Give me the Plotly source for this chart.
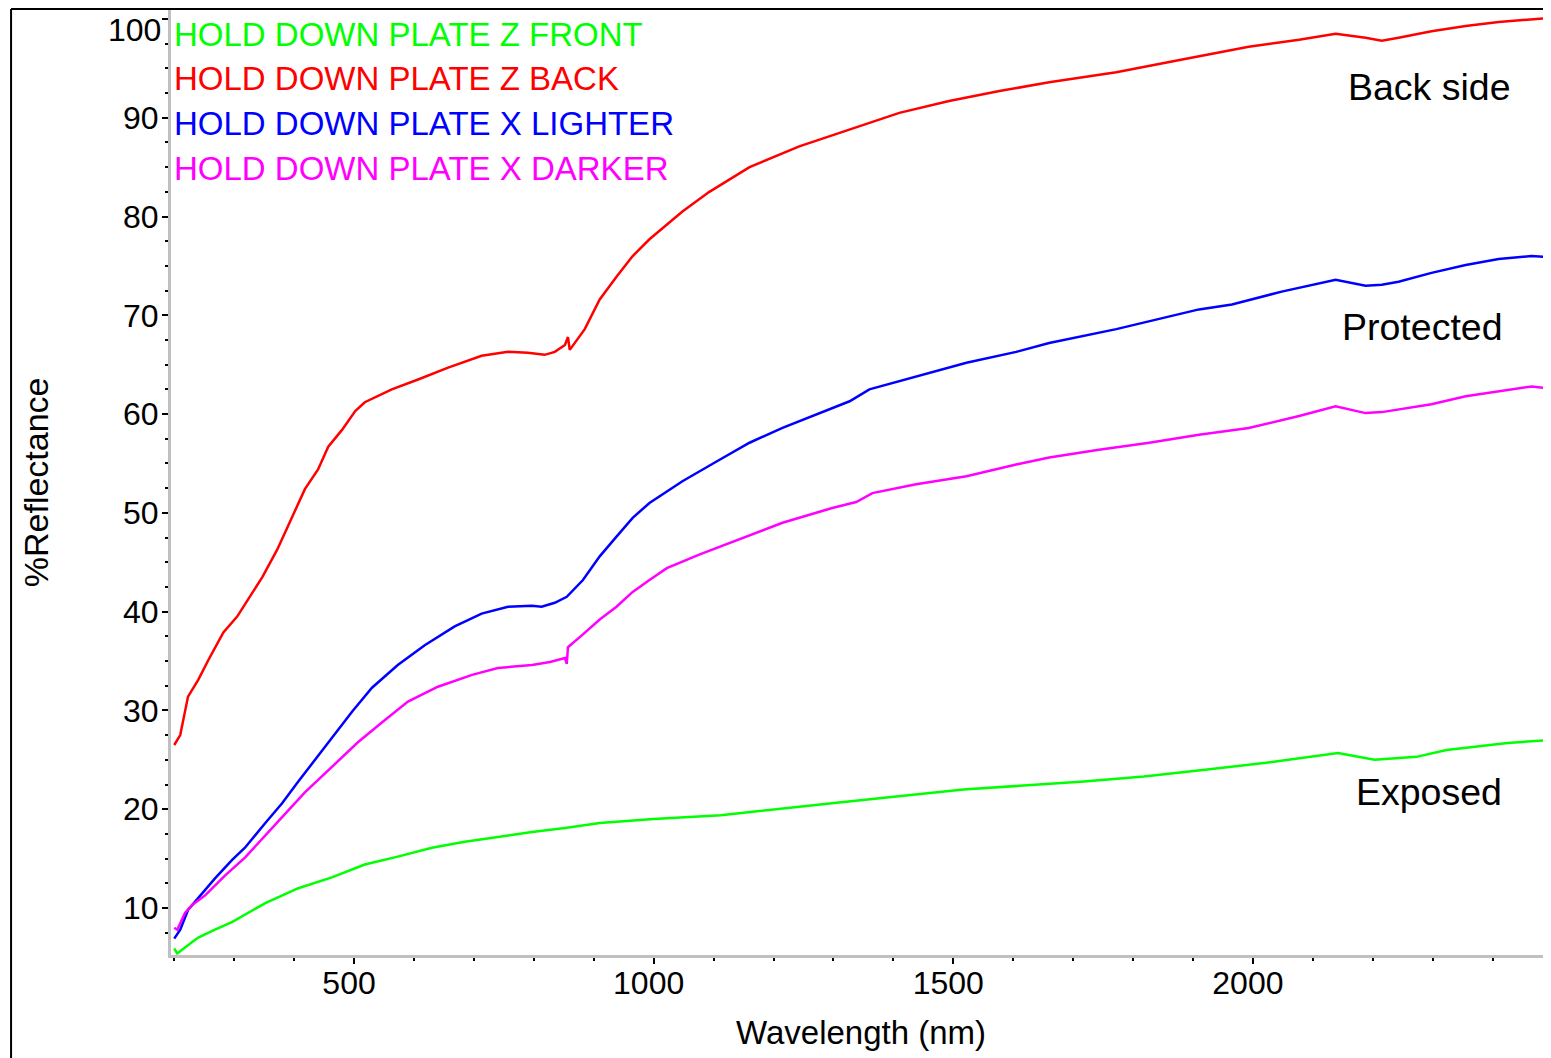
import plotly.graph_objects as go

# wavelength (nm) / %reflectance
wl_front = [200, 205, 218, 240, 268, 297, 352, 407, 463, 518, 573, 630, 685, 740, 797, 852,
            910, 1000, 1112, 1313, 1517, 1718, 1818, 1920, 2022, 2142, 2203, 2273, 2323, 2425, 2495]
r_front = [5.9, 5.4, 6.0, 7.0, 7.8, 8.6, 10.5, 12.0, 13.1, 14.4, 15.2, 16.1, 16.7, 17.2, 17.7, 18.1,
           18.6, 19.0, 19.4, 20.7, 22.0, 22.8, 23.3, 24.0, 24.7, 25.7, 25.0, 25.3, 26.0, 26.7, 27.0]

wl_back = [200, 210, 223, 240, 257, 282, 305, 323, 347, 372, 397, 418, 440, 457, 480, 502, 518,
           563, 607, 657, 713, 757, 790, 818, 835, 852, 857, 860, 885, 910, 938, 965, 993, 1022,
           1048, 1093, 1160, 1243, 1327, 1410, 1493, 1577, 1660, 1772, 1882, 1993, 2077, 2138,
           2188, 2215, 2243, 2298, 2355, 2410, 2495]
r_back = [26.5, 27.5, 31.4, 33.1, 35.1, 37.9, 39.5, 41.2, 43.5, 46.3, 49.6, 52.4, 54.4, 56.7, 58.4,
          60.3, 61.2, 62.5, 63.5, 64.7, 65.9, 66.3, 66.2, 66.0, 66.3, 67.0, 67.8, 66.5, 68.6, 71.6,
          73.9, 76.0, 77.7, 79.2, 80.5, 82.5, 85.0, 87.1, 88.8, 90.5, 91.7, 92.7, 93.6, 94.6, 95.9,
          97.2, 97.9, 98.5, 98.1, 97.8, 98.1, 98.75, 99.3, 99.7, 100.1]

wl_lighter = [200, 210, 223, 240, 268, 297, 318, 352, 380, 407, 435, 463, 497, 530, 573, 618, 668,
              713, 757, 797, 813, 835, 855, 882, 910, 938, 965, 993, 1048, 1105, 1160, 1215, 1272,
              1327, 1360, 1438, 1522, 1605, 1660, 1772, 1855, 1910, 1965, 2048, 2138, 2188, 2215,
              2243, 2298, 2355, 2410, 2465, 2495]
r_lighter = [6.9, 7.8, 9.8, 11.0, 13.0, 14.9, 16.1, 18.6, 20.6, 22.8, 25.0, 27.3, 29.9, 32.3, 34.6,
             36.6, 38.5, 39.8, 40.5, 40.6, 40.5, 40.9, 41.5, 43.2, 45.6, 47.6, 49.5, 51.0, 53.2, 55.2,
             57.1, 58.6, 60.0, 61.3, 62.5, 63.8, 65.2, 66.3, 67.2, 68.6, 69.8, 70.6, 71.1, 72.4, 73.6,
             73.0, 73.1, 73.4, 74.3, 75.1, 75.7, 76.0, 75.9]

wl_darker = [200, 205, 218, 230, 252, 285, 318, 352, 380, 418, 463, 507, 547, 590, 640, 697, 740,
             797, 827, 852, 855, 857, 882, 910, 938, 965, 993, 1022, 1077, 1132, 1215, 1298, 1338,
             1365, 1438, 1522, 1605, 1660, 1743, 1827, 1910, 1993, 2077, 2138, 2188, 2215, 2298,
             2355, 2410, 2465, 2495]
r_darker = [8.0, 7.8, 9.5, 10.3, 11.3, 13.3, 15.1, 17.4, 19.2, 21.7, 24.3, 26.8, 28.8, 30.9, 32.4,
            33.6, 34.3, 34.6, 34.9, 35.3, 34.7, 36.4, 37.7, 39.2, 40.5, 42.0, 43.2, 44.4, 45.8, 47.1,
            49.0, 50.5, 51.1, 52.0, 52.9, 53.7, 54.9, 55.6, 56.4, 57.1, 57.9, 58.6, 59.8, 60.8, 60.1,
            60.2, 61.0, 61.8, 62.3, 62.8, 62.6]

series = [
    ("HOLD DOWN PLATE Z FRONT", wl_front, r_front, "#00ff00"),
    ("HOLD DOWN PLATE Z BACK", wl_back, r_back, "#ff0000"),
    ("HOLD DOWN PLATE X LIGHTER", wl_lighter, r_lighter, "#0000ff"),
    ("HOLD DOWN PLATE X DARKER", wl_darker, r_darker, "#ff00ff"),
]

FONT = "Liberation Sans, Arial, sans-serif"

fig = go.Figure()
for name, x, y, col in series:
    fig.add_trace(go.Scatter(x=x, y=y, mode="lines", name=name,
                             line=dict(color=col, width=2.5)))

ann = []
# colored text legend top-left
legend_y = [0.9746, 0.927, 0.8794, 0.8328]
for (name, _, _, col), ly in zip(series, legend_y):
    ann.append(dict(text=name, x=0.0007, y=ly, xref="paper", yref="paper",
                    xanchor="left", yanchor="middle", showarrow=False,
                    font=dict(size=33, color=col, family=FONT)))

# side labels
for txt, xr, yp in [("Back side", 0.9725, 0.9185), ("Protected", 0.9667, 0.6646),
                    ("Exposed", 0.966, 0.1725)]:
    ann.append(dict(text=txt, x=xr, y=yp, xref="paper", yref="paper",
                    xanchor="right", yanchor="middle", showarrow=False,
                    font=dict(size=37.5, color="black", family=FONT)))

# top tick label sits a bit lower than its tick in the original
ann.append(dict(text="100", x=-0.006, y=0.9788, xref="paper", yref="paper",
                xanchor="right", yanchor="middle", showarrow=False,
                font=dict(size=32, color="black", family=FONT)))

# axis titles
ann.append(dict(text="Wavelength (nm)", x=0.5, y=-0.0815, xref="paper", yref="paper",
                xanchor="center", yanchor="middle", showarrow=False,
                font=dict(size=33, color="black", family=FONT)))
ann.append(dict(text="%Reflectance", x=-0.098, y=0.5, xref="paper", yref="paper",
                xanchor="center", yanchor="middle", showarrow=False, textangle=-90,
                font=dict(size=34, color="black", family=FONT)))

y_ticks = [10, 20, 30, 40, 50, 60, 70, 80, 90, 100]
y_text = ["10", "20", "30", "40", "50", "60", "70", "80", "90", ""]

# page body has an 8px margin, so the figure is 8px smaller and shifted
fig.update_layout(
    width=1543, height=1050,
    margin=dict(l=163, r=0, t=2, b=103),
    paper_bgcolor="white", plot_bgcolor="white",
    showlegend=False,
    font=dict(family=FONT, size=32, color="black"),
    annotations=ann,
    shapes=[
        dict(type="line", xref="paper", yref="paper", x0=-0.1159, x1=1.0,
             y0=1.001, y1=1.001, line=dict(color="black", width=2)),
        dict(type="line", xref="paper", yref="paper", x0=-0.1159, x1=-0.1159,
             y0=1.001, y1=-0.12, line=dict(color="black", width=2)),
    ],
)

fig.update_xaxes(
    range=[194.6, 2497.4], showgrid=False, zeroline=False,
    showline=True, linecolor="#c0c0c0", linewidth=3,
    tickmode="linear", tick0=0, dtick=500,
    ticks="outside", ticklen=6, tickwidth=1.5, tickcolor="black",
    tickfont=dict(size=32, family=FONT), ticklabelshift=-5, ticklabelstandoff=-8,
    minor=dict(dtick=100, tick0=0, ticks="outside", ticklen=3, tickcolor="black", tickwidth=1.5),
)
fig.update_yaxes(
    range=[5.24, 100.91], showgrid=False, zeroline=False,
    showline=True, linecolor="#c0c0c0", linewidth=3,
    tickmode="array", tickvals=y_ticks, ticktext=y_text,
    ticks="outside", ticklen=6, tickwidth=1.5, tickcolor="black",
    tickfont=dict(size=32, family=FONT), ticklabelstandoff=-3,
    minor=dict(dtick=2.5, tick0=0, ticks="outside", ticklen=3, tickcolor="black", tickwidth=1.5),
)

fig.write_html("out.html")
